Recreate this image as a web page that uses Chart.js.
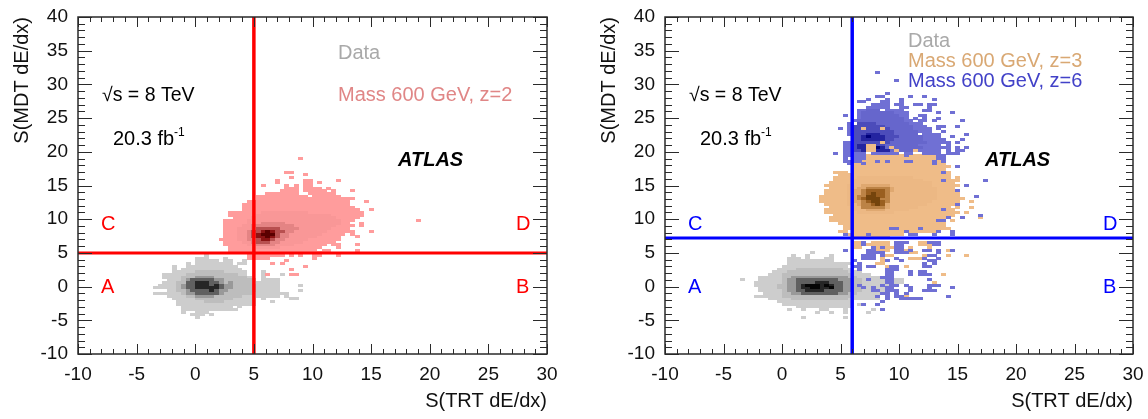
<!DOCTYPE html>
<html>
<head>
<meta charset="utf-8">
<title>S(MDT dE/dx) vs S(TRT dE/dx)</title>
<script src="https://cdn.jsdelivr.net/npm/chart.js@4"></script>
<style>
  html, body { margin: 0; padding: 0; background: #fff; }
  canvas { position: absolute; top: 0; }
  #leftChart { left: 0; }
  #rightChart { left: 574px; }
</style>
</head>
<body>
<canvas id="leftChart" width="574" height="419"></canvas>
<canvas id="rightChart" width="574" height="419"></canvas>
<script>
// every row is [y, x0, x1, x0, x1, ...] : the filled bins of that histogram row
const dataLeft1 = [
  [4.6,0.8,1.2],[4.2,0,1.2,2.4,2.8],[3.8,-0.2,2,2.4,3,4,4.4],[3.4,-0.8,-0.4,0,3,3.6,4.4],
  [3,-2,-1.6,-0.8,3.6],[2.6,-2,-1.6,-1.2,4],[2.2,-2,4.4,5.4,5.8],[1.8,-2.8,4.4,5.4,6,7,7.4],
  [1.4,-2.8,4.8,5.4,6],[1,-2.4,5.2,5.6,7.4],[0.6,-2.8,7.4],[0.2,-3.2,7.4,8.6,9],[-0.2,-3.4,7.4],
  [-0.6,-2.4,7.4,8.8,9.2],[-1,-3.4,-2.4,-2.4,7,7.4,7.8],[-1.4,-2.4,7,7.6,8],[-1.8,-2,5,5.6,6,8.2,8.6],
  [-2.2,-1.6,5.2,6.4,6.8],[-2.6,-1.6,5.2],[-3,-1.2,3.2,3.6,4],[-3.4,-1.2,3.4],[-3.8,-1.2,-0.8,0,1],
  [-4.2,-0.4,0.8,1,1.4],[-4.6,0.2,0.6]
];
const dataLeft2 = [
  [2.2,0,2.4],[1.8,-1,3.6],[1.4,-1.2,4.4],[1,-1.2,4.6],[0.6,-1.4,4.8],[0.2,-1.4,5.2],[-0.2,-1.4,5.2],
  [-0.6,-1.4,5],[-1,-1.2,4.6],[-1.4,-1,4.2],[-1.8,0,3.2],[-2.2,0.8,2.4]
];
const dataLeft3 = [
  [1.4,0,1.6],[1,-0.8,2.4],[0.6,-1,2.6,2.8,3.2],[0.2,-1.2,3.2],[-0.2,-1.2,3.2],[-0.6,-1,2.8],[-1,-0.8,2.4],[-1.4,0,1.6]
];
const dataLeft4 = [
  [1,-0.4,1.6],[0.6,-0.8,2.2],[0.2,-0.8,2.4],[-0.2,-0.8,2.4],[-0.6,-0.6,2.2],[-1,-0.2,1.8]
];
const dataLeft5 = [
  [0.6,0,1],[0.2,-0.2,1.2,1.4,1.8],[-0.2,0,1.4,1.6,2],[-0.6,1,1.4]
];
const massZ2Base = [
  [19,8.8,9.2],[17,7.6,8.4],[16.7,9.2,9.6],[16.2,8,8.4],[15.8,6.7,7.1,9.1,9.9,11.9,12.3],
  [15.4,6.7,7.1,9.1,9.9,10.4,10.8],[15,5.5,5.9,7.6,8,8.4,8.8,9.2,9.9],[14.6,7.6,8.8,9.2,10.8,11.2,11.6],
  [14.2,7.2,8.8,9.2,11.2,11.6,12,13.2,13.6],[13.8,5.9,8.8,9.6,12],[13.4,5.2,9.6,10,12.4],[13,5.2,13.6],
  [12.6,4.4,13.2,14.4,14.8],[12.2,4,13.2],[11.8,4,13.6],[11.4,4,14,14.8,15.2],[11,2.8,14.4],[10.6,2.8,14.4],
  [10.2,3.2,14],[9.8,2.4,13.6,18.8,19.2],[9.4,2.4,13.2,14,14.4],[9,2.4,13.6,14,14.4],[8.6,2.4,13.2],
  [8.2,2.4,13.6,14.8,15.2],[7.8,2.4,12.8,13.2,13.6],[7.4,2.4,12.4,13.6,14],[7,2,12.4],[6.6,2.4,12],
  [6.2,2.4,11.2,11.6,12.4,13.6,14],[5.8,2.8,10.8,12,12.4],[5.4,2.8,10.4,10.8,11.6,13.6,14],[5,2.8,10.8],
  [4.6,4.4,7.6,8,8.4,8.8,9.2,10,10.8,12,12.4],[4.2,4.4,6.4,10,10.4],[3.8,7.6,8],[3.4,6.4,6.8,7.2,7.6],
  [3,9.2,9.6],[2.6,8,8.4],[1.8,5.8,6.2,8.2,8.6]
];
const massZ2Mid = [
  [11,5.6,9.6],[10.6,5.2,11.6],[10.2,4.8,12],[9.8,4.4,12.4],[9.4,4.4,12.4],[9,4,12],[8.6,3.6,11.6],
  [8.2,3.6,11.2],[7.8,3.6,10.8],[7.4,3.6,10.4],[7,3.6,9.6],[6.6,4,9.2],[6.2,4.4,8.4],[5.8,5,7.2]
];
const massZ2Dark = [
  [9.4,5.6,7.6],[9,4.8,8.4],[8.6,4.6,8.6],[8.2,4.4,8.4],[7.8,4.4,8],[7.4,4.4,8],[7,4.4,7.6],[6.6,4.8,7.2],[6.2,5.2,6.8]
];
const massZ2Deep = [
  [8.6,5.2,7.2],[8.2,4.8,7.6],[7.8,4.8,7.2],[7.4,4.8,7.2],[7,5.2,6.8],[6.6,5.2,6.4]
];
const massZ2Peak = [
  [8.2,5.6,6.8],[7.8,5.2,6.8],[7.4,5.2,6.8],[7,5.6,6.4]
];
const massZ2Core = [
  [8.2,5.8,6.4],[7.8,5.6,6.6],[7.4,5.8,6.4]
];

const dataRight1 = [
  [4.9,2.4,2.8],[4.6,0.8,1.2,2,2.4,4,4.4],[4.2,0.4,1.6,2,2.4,3.6,4.4],[3.8,0.4,4.4],[3.4,0.4,5.8],[3,0,5.6],
  [2.6,-0.4,6],[2.2,-0.8,6.8],[1.8,-1.2,7.6],[1.4,-2,8.4],[1,-3.6,-3.2,-2,10.4],[0.6,-2.4,10.4],[0.2,-2.4,9.6],
  [-0.2,-2,9.6],[-0.6,-2,9.6],[-1,-1.6,8.4],[-1.4,-2.4,8.4],[-1.8,-1.2,8.4],[-2.2,-0.4,6],[-2.6,0,6,6.4,6.8],
  [-3,1.2,3.8,4.2,6],[-3.4,0.4,0.8,1.6,2,3.2,3.8,5.2,5.6,7.6,8],[-3.8,2.8,3.2,4,4.4,5.2,5.6,7.2,7.6],[-4.4,1.6,2,5.2,5.6]
];
const dataRight2 = [
  [2.6,1,5],[2.2,0.4,5.6],[1.8,0,6],[1.4,-0.2,6.4],[1,-0.2,6.8],[0.6,-0.2,6.8],[0.2,-0.4,6.8],[-0.2,-0.4,6.8],
  [-0.6,-0.2,6.8],[-1,0,6.4],[-1.4,0.2,6],[-1.8,0.8,5.6]
];
const dataRight3 = [
  [1.4,0.8,5.6],[1,0.6,5.8],[0.6,0.4,5.8],[0.2,0.4,6],[-0.2,0.4,6],[-0.6,0.6,5.8],[-1,0.8,5.6]
];
const dataRight4 = [
  [1,1.2,4.8],[0.6,1,5],[0.2,1,5.2],[-0.2,1,5.2],[-0.6,1.2,5],[-1,1.6,4.6]
];
const dataRight5 = [
  [0.6,2.8,3.8],[0.2,1.4,4.4],[-0.2,1.6,4.4],[-0.6,2,3.6]
];
const dataRight6 = [
  [0.2,2.2,3,3.6,4],[-0.2,2.4,3.2,3.8,4.4]
];
const massZ3Base = [
  [19.4,7.2,13.6],[19,6.4,13.6],[18.6,6,14],[18.2,6,14],[17.8,6,14.4],[17.4,6,14],[17,4.4,5.6,6,14.4],
  [16.6,4.8,14.4],[16.2,4.4,14.4,14.8,15.2],[15.8,4.4,15.2],[15.4,4,14.8],[15,3.6,15.2],[14.6,4,14.8],
  [14.2,3.6,14.8],[13.8,3.6,15.2],[13.4,3.2,15.2],[13,3.2,15.6],[12.6,3.2,15.2,16,16.4],[12.2,3.6,14.8],
  [11.8,4,14.4,14.8,15.2,16,16.4],[11.4,3.6,14.8],[11,3.6,15.2,15.6,16],[10.6,4.4,14.8],[10.2,4,14.4,16.8,17.2],
  [9.8,4,13.8,14.4,14.8],[9.4,4.8,13.8],[9,5.2,13.8],[8.6,5.2,14.4],[8.2,4.8,5.6,6,13.2],[7.8,5.6,5.8,6,10.4],
  [7.4,6,9.2],[6.7,6.1,6.8,7.5,9.2,9.6,10,11.6,12.4],[6.2,6.1,6.8,7.2,9.2,11.6,12.8],[5.8,6.1,6.8,8,9.6,10.8,11.2,12.4,12.8],
  [5.4,7.6,9.2,10.4,10.8,14,14.4],[4.9,8.2,8.8,10.8,11.6],[4.6,8.8,9.6,11.8,12.4,14,14.4,15.6,16],[4.1,8.4,8.8,9.6,10,10.8,12],
  [3.7,8.4,8.8],[3.3,8,8.8],[2.9,8.8,9.2,10.4,10.8],[1.8,13.6,14],[0.7,12.8,13.2],[-0.5,8,8.4],[-1.6,10.4,10.8]
];
const massZ3Mid = [
  [16.2,6.4,11],[15.8,6.2,12],[15.4,6,12.6],[15,5.6,12.8],[14.6,5.6,13],[14.2,5.6,13],
  [13.8,5.6,13.2],[13.4,5.4,13.2],[13,5.4,13.2],[12.6,5.6,12.8],[12.2,5.6,12.4],[11.8,5.8,11.6],[11.4,6,10.8],[11,6.4,9.6]
];
const massZ3Dark = [
  [15,6.8,9.2],[14.6,6.4,9.6],[14.2,6.2,9.6],[13.8,6.2,9.4],[13.4,6,9.4],[13,6,9.4],[12.6,6.2,9.2],[12.2,6.4,9.2],[11.8,6.6,9],[11.4,7,8.6]
];
const massZ3Deep = [
  [14.6,7,9],[14.2,6.8,9],[13.8,6.8,9],[13.4,6.4,9],[13,6.4,9],[12.6,6.8,9],[12.2,6.8,8.8],[11.8,6.8,8.8]
];
const massZ3Peak = [
  [14.2,7.2,8.8],[13.8,7.2,8.8],[13.4,7.2,8.8],[13,6.8,8.4],[12.6,7.2,8.8],[12.2,7.6,8.8]
];
const massZ3Core = [
  [13.8,7.6,8],[13.4,7.2,8.2],[13,7.2,8.4],[12.6,7.6,8.4],[12.2,8,8.4]
];
const massZ3Patches = [
  [23.4,6.8,7.2,8.4,8.8],[21.4,8.4,8.8],[21,7.2,8],[20.6,7.2,8,9,9.4],[20.2,7.2,8,9.6,10.2,11.2,11.6]
];
const massZ6Base = [
  [31.8,8,8.4],[30.6,9.6,10],[28.5,8.8,9.2],[28.2,8,8.8,10.8,11.2,12,12.4],[27.8,7.2,7.6,8.8,9.2,10,10.4,12.8,13.2],
  [27.4,6.4,7.2,8.4,9.2,10,10.4],[27,7.6,9.2,9.6,10.4,11.2,12,12.4,13.2],[26.6,7.2,9.2,10,10.8,12.4,12.8],
  [26.2,6.4,8.4,8.8,10.4,12,12.8],[25.8,6.4,10.8,13.2,13.6,14.4,14.8],[25.4,5.2,5.6,6.4,10.8,11.6,12.4],
  [25,6.4,10.8,11.2,11.6,12,12.4,13.2,13.6],[24.6,6,11.2,11.6,12.4,12.8,13.2,15.2,15.6],[24.2,5.6,6,6.4,12],
  [23.8,5.6,12.4,13.2,14,14.8,15.2],[23.4,4.8,5.2,5.6,10.8,11.2,12.8,13.2,13.6],[23,5.6,12.8,13.6,14],
  [22.6,5.6,11.6,12,13.6,15.6,16],[22.2,6,13.6,14.4,14.8],[21.8,6,14,15.2,15.6],[21.4,5.2,14.4,14.8,15.2],
  [21,5.2,13.6,14,14.4],[20.6,5.2,14.4,14.8,15.2,15.6,16],[20.2,5.2,13.6,14,14.4,14.8,15.6],
  [19.8,4.4,4.8,5.2,7.2,7.6,9.8,10.4,11,12,13.6,14,15],[19.4,5.2,7.4,10.4,10.8,13,14],[19,5.2,5.6,6.2,7.2,13.2,14],
  [18.6,5.2,6,6.2,6.6,7.8,8.2,8.8,9.2,10.4,11,12.6,13.2,13.6,14],[18.2,5.4,5.8,6.6,7.2,12.8,13.4],[17.9,14.8,15.2],
  [17,13.6,14],[15.8,13.6,14,17.2,17.6],[14.8,15.6,16],[14.1,14.8,15.2],[13.3,16.4,16.8],[12.1,14.6,15],[11.4,13.6,14],
  [10.5,16.8,17.2],[10.2,14,14.4,15,15.4],[9.6,13.4,14],[8.6,9.4,9.8,11.7,12],[8.2,10.4,10.8,13,13.4,14.4,14.8],
  [7.6,5.2,5.6,7.2,7.6,10.8,11.6,12.8,13.2,14.4,14.8],[6.7,6.8,7.2,9.6,10.8,12.4,13.6],[6.2,6.8,7.2,9.6,10.4,12.8,13.6],
  [5.8,7.6,8,8.4,8.8,9.6,10.4],[5.4,5.2,5.6,7.2,8,9.6,10.4,10.8,11.2,12,12.8,13.2,13.6,14.4,14.8],
  [4.9,7.2,8.8,9.6,10.8,13.2,13.6],[4.6,6.8,8,8.4,8.8,12.4,13.2],[4.1,6.8,8,9.6,10,12,12.4,13.2,13.6],
  [3.7,6,6.4,8.8,9.2,10,10.4,12.4,13.2],[3.3,6.4,6.8,12,12.4,12.8,13.2],[2.9,6,6.8,7.2,8,9.2,10,12,12.8],
  [2.6,6.4,6.8,8.8,10],[2.2,8.8,9.6,10.8,11.2,11.6,12.4],[1.8,8.8,9.6,10.8,11.2,11.6,12.8],[1.5,8.4,9.6],
  [1.1,7.2,7.6,8.8,9.6,12.4,12.8],[0.7,8.8,9.6],[0.2,6.4,6.8,8.4,8.8,9.2,10,10.4,10.8,12.4,13.6],
  [-0.2,6.8,7.2,7.6,8,8.8,9.6,10.8,11.2,12.4,12.8,14.4,14.8],[-0.6,7.6,8.4,8.8,10,10.8,11.2,12,13.2],
  [-1,8.4,9.2,9.6,10,10.4,10.8],[-1.4,8,8.4,8.8,9.2,9.6,10.4,14,14.4],[-1.7,8.8,9.2,9.9,11.9],[-2.1,8.4,8.8],
  [-2.6,6.8,7.2,8,8.4],[-3.3,8.4,8.8]
];
const massZ6Mid = [
  [26.2,7,8.4],[25.8,6.8,9.6],[25.4,6.8,10],[25,6.8,10.4],[24.6,6.4,10.4],[24.2,6.4,10.8],[23.8,6,11.2],[23.4,6,11.2],
  [23,6,11.6],[22.6,6,11.6],[22.2,6,12],[21.8,6,12],[21.4,6,12.4],[21,6,11.6],[20.6,6,12],[20.2,6,11.2]
];
const massZ6Dark = [
  [24.2,6.4,8],[23.8,6,8.8],[23.4,6,9.2],[23,6,9.6],[22.6,6,9.6],[22.2,6,10],[21.8,6,9.6],[21.4,6,9.2],[21,6,8.8],[20.6,6,8.4],[20.2,6,7.4]
];
const massZ6Deep = [
  [22.6,7,8.4],[22.2,6.8,8.8],[21.8,6.8,8.8],[21,6.4,7.2],[20.6,6.4,7.2,8.4,8.8],[20.2,6.8,7.2,8,9]
];
const massZ6Peak = [
  [22.2,7.2,7.6],[20.6,7.6,8.4],[20.2,7.6,8]
];

const tickValues = [-10, -5, 0, 5, 10, 15, 20, 25, 30];
const xTitle = 'S(TRT dE/dx)';
const yTitle = 'S(MDT dE/dx)';
const binSize = 0.4;

// offscreen bitmap used as the point style: one histogram bin
function binStyle(color) {
  const c = document.createElement('canvas');
  c.width = 5;
  c.height = 3;
  const g = c.getContext('2d');
  g.fillStyle = color;
  g.fillRect(0, 0, 5, 3);
  return c;
}

function binsOf(rows) {
  const pts = [];
  rows.forEach(r => {
    const yc = -10 + (Math.floor((r[0] + 10) / binSize) + 0.5) * binSize;
    for (let k = 1; k < r.length; k += 2) {
      const i0 = Math.round((r[k] + 10) / binSize);
      const i1 = Math.max(i0 + 1, Math.round((r[k + 1] + 10) / binSize));
      for (let i = i0; i < i1; i++) pts.push({ x: -10 + (i + 0.5) * binSize, y: yc });
    }
  });
  return pts;
}

function histLayer(rows, color) {
  return { data: binsOf(rows), pointStyle: binStyle(color), pointRadius: 3, showLine: false };
}

function cutLine(points, color, width) {
  return { data: points, showLine: true, borderColor: color, borderWidth: width, pointRadius: 0 };
}

// ROOT style frame, ticks inside on all four sides
const frameTicks = {
  id: 'frameTicks',
  afterDatasetsDraw(chart) {
    const { ctx, chartArea: a, scales: { x, y } } = chart;
    ctx.save();
    ctx.strokeStyle = '#2a2a2a';
    ctx.lineWidth = 1;
    ctx.beginPath();
    for (let v = -10; v <= 30; v++) {
      const px = Math.round(x.getPixelForValue(v)) + 0.5;
      const len = v % 5 === 0 ? 10 : 5;
      ctx.moveTo(px, a.bottom); ctx.lineTo(px, a.bottom - len);
      ctx.moveTo(px, a.top); ctx.lineTo(px, a.top + len);
    }
    for (let v = -10; v <= 40; v++) {
      const py = Math.round(y.getPixelForValue(v)) + 0.5;
      const len = v % 5 === 0 ? 14 : 7;
      ctx.moveTo(a.left, py); ctx.lineTo(a.left + len, py);
      ctx.moveTo(a.right, py); ctx.lineTo(a.right - len, py);
    }
    ctx.stroke();
    ctx.lineWidth = 1.5;
    ctx.strokeRect(a.left, a.top, a.right - a.left, a.bottom - a.top);
    ctx.restore();
  }
};

// texts are given as canvas pixels of the panel
const panelText = {
  id: 'panelText',
  afterDraw(chart, args, opts) {
    const ctx = chart.ctx;
    ctx.save();
    ctx.textBaseline = 'middle';
    ctx.textAlign = 'left';
    opts.items.forEach(t => {
      ctx.font = t.font || '20px "Liberation Sans"';
      ctx.fillStyle = t.color || '#000';
      ctx.fillText(t.text, t.x, t.y);
    });
    ctx.restore();
  }
};

function makeChart(id, layers, lines, leftWidth, rightPad, items) {
  const painted = layers.concat(lines);
  new Chart(document.getElementById(id), {
    type: 'scatter',
    data: { datasets: painted.reverse() },   // first dataset is painted last
    plugins: [frameTicks, panelText],
    options: {
      responsive: false,
      animation: false,
      events: [],
      layout: { padding: { left: 0, top: 17, right: rightPad, bottom: 0 } },
      plugins: { legend: { display: false }, tooltip: { enabled: false }, panelText: { items } },
      scales: {
        x: {
          type: 'linear', min: -10, max: 30,
          afterFit: s => { s.height = 65; },
          afterBuildTicks: s => { s.ticks = tickValues.map(v => ({ value: v })); },
          grid: { display: false },
          border: { display: false },
          ticks: { color: '#111', font: { family: 'Liberation Sans', size: 19 }, padding: 1, maxRotation: 0, autoSkip: false },
          title: { display: true, text: xTitle, align: 'end', color: '#111', padding: { top: 0, bottom: 6 }, font: { family: 'Liberation Sans', size: 20 } }
        },
        y: {
          type: 'linear', min: -10, max: 40,
          afterFit: s => { s.width = leftWidth; },
          grid: { display: false },
          border: { display: false },
          ticks: { stepSize: 5, color: '#111', font: { family: 'Liberation Sans', size: 19 }, padding: 2, autoSkip: false },
          title: { display: true, text: yTitle, align: 'end', color: '#111', padding: { top: leftWidth - 68, bottom: 0 }, font: { family: 'Liberation Sans', size: 20 } }
        }
      }
    }
  });
}

const GRAY = ['#cdcdcd', '#bdbdbd', '#999999', '#606060', '#262626', '#050505'];

makeChart('leftChart', [
  histLayer(dataLeft1, GRAY[0]), histLayer(dataLeft2, GRAY[1]), histLayer(dataLeft3, GRAY[2]),
  histLayer(dataLeft4, GRAY[3]), histLayer(dataLeft5, GRAY[4]),
  histLayer(massZ2Base, '#ff9c9c'), histLayer(massZ2Mid, '#f99797'), histLayer(massZ2Dark, '#e48484'),
  histLayer(massZ2Deep, '#b85050'), histLayer(massZ2Peak, '#8c1414'), histLayer(massZ2Core, '#5a0000')
], [
  cutLine([{ x: 5, y: -10 }, { x: 5, y: 40 }], '#ff0000', 3.5),
  cutLine([{ x: -10, y: 5 }, { x: 30, y: 5 }], '#ff0000', 3)
], 78, 27, [
  { text: 'Data', x: 338, y: 53, color: '#a9a9a9' },
  { text: 'Mass 600 GeV, z=2', x: 338, y: 95, color: '#e08686' },
  { text: '√s = 8 TeV', x: 102, y: 96, font: '19.5px "Liberation Sans"' },
  { text: '20.3 fb', x: 113, y: 139 },
  { text: '-1', x: 174, y: 133, font: '12px "Liberation Sans"' },
  { text: 'ATLAS', x: 398, y: 160, font: 'italic bold 20px "Liberation Sans"' },
  { text: 'A', x: 101, y: 287, color: '#ff0000' },
  { text: 'B', x: 516, y: 287, color: '#ff0000' },
  { text: 'C', x: 101, y: 224, color: '#ff0000' },
  { text: 'D', x: 516, y: 224, color: '#ff0000' }
]);

makeChart('rightChart', [
  histLayer(dataRight1, GRAY[0]), histLayer(dataRight2, GRAY[1]), histLayer(dataRight3, GRAY[2]),
  histLayer(dataRight4, GRAY[3]), histLayer(dataRight5, GRAY[4]), histLayer(dataRight6, GRAY[5]),
  histLayer(massZ3Base, '#efbc88'), histLayer(massZ3Mid, '#ecb884'), histLayer(massZ3Dark, '#dfa870'),
  histLayer(massZ3Deep, '#bc8346'), histLayer(massZ3Peak, '#9a5f20'), histLayer(massZ3Core, '#74440c'),
  histLayer(massZ6Base, '#7070d4'), histLayer(massZ6Mid, '#6666cc'), histLayer(massZ6Dark, '#4c4cba'),
  histLayer(massZ6Deep, '#2424a0'), histLayer(massZ6Peak, '#00007a'),
  histLayer(massZ3Patches, '#efbc88')
], [
  cutLine([{ x: 6, y: -10 }, { x: 6, y: 40 }], '#0000ff', 3.5),
  cutLine([{ x: -10, y: 7.2 }, { x: 30, y: 7.2 }], '#0000ff', 3)
], 91, 15, [
  { text: 'Data', x: 334, y: 41, color: '#a9a9a9' },
  { text: 'Mass 600 GeV, z=3', x: 334, y: 61, color: '#d9a873' },
  { text: 'Mass 600 GeV, z=6', x: 334, y: 81, color: '#4242c8' },
  { text: '√s = 8 TeV', x: 115, y: 96, font: '19.5px "Liberation Sans"' },
  { text: '20.3 fb', x: 126, y: 139 },
  { text: '-1', x: 187, y: 133, font: '12px "Liberation Sans"' },
  { text: 'ATLAS', x: 411, y: 160, font: 'italic bold 20px "Liberation Sans"' },
  { text: 'A', x: 114, y: 287, color: '#0000ff' },
  { text: 'B', x: 529, y: 287, color: '#0000ff' },
  { text: 'C', x: 114, y: 224, color: '#0000ff' },
  { text: 'D', x: 529, y: 224, color: '#0000ff' }
]);
</script>
</body>
</html>
